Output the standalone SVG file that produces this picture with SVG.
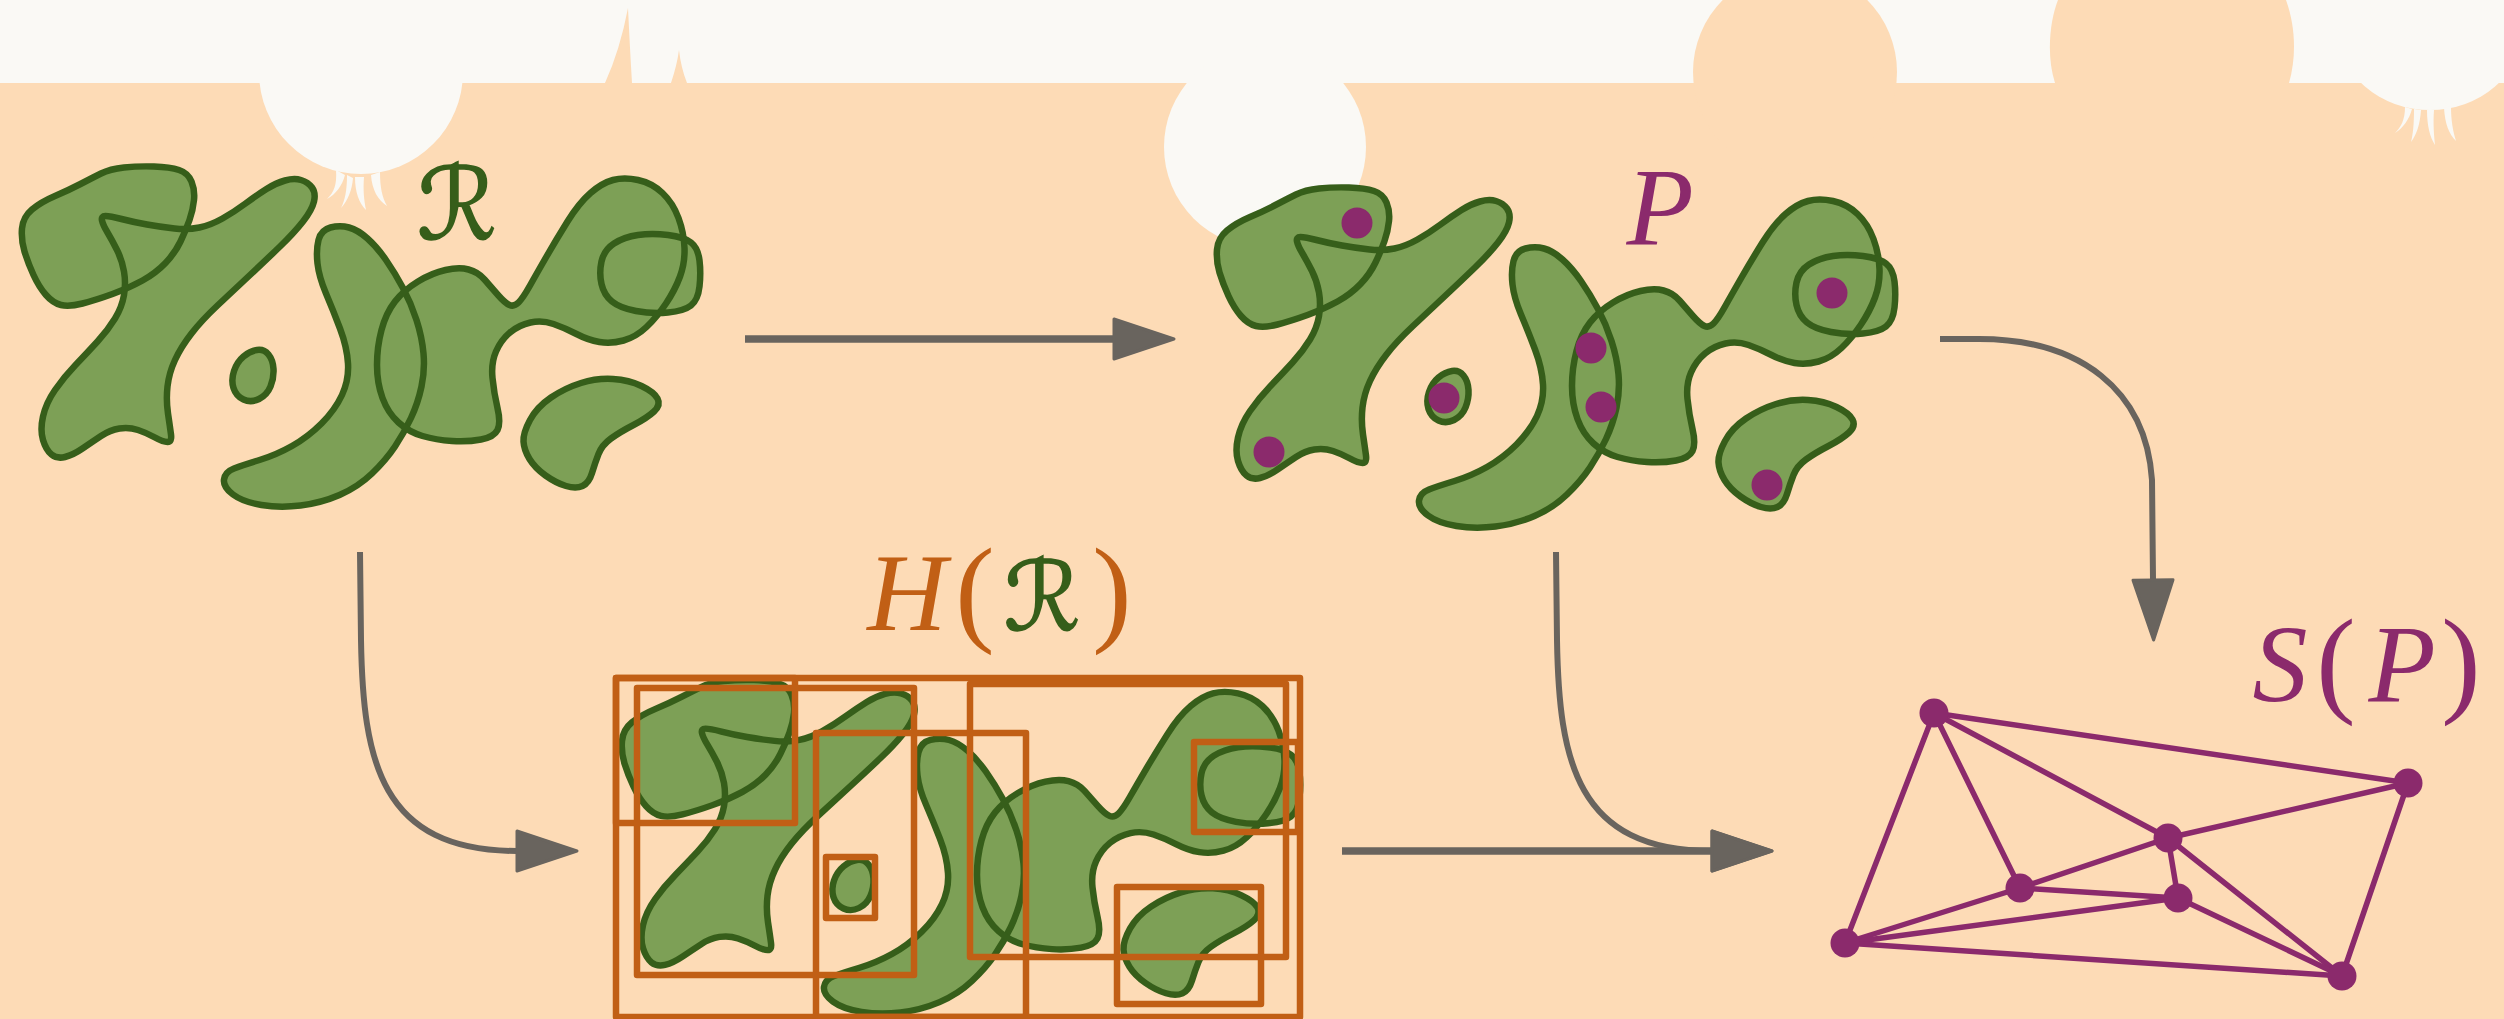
<svg xmlns="http://www.w3.org/2000/svg" width="2504" height="1019" viewBox="0 0 2504 1019">
<style>
  .bg{fill:#fddbb6}
  .band{fill:#faf9f5}
  .fillg{fill:#7da056;stroke:none}
  .lineg{fill:none;stroke:#365e1a;stroke-width:6.5;stroke-linejoin:round}
  .box{fill:none;stroke:#c15f15;stroke-width:6.5;stroke-linejoin:round}
  .dot{fill:#8b2a6c}
  .edge{stroke:#8b2a6c;stroke-width:5.5;stroke-linecap:round}
  .arrow{fill:none;stroke:#69645e}
  .it{font-family:"Liberation Serif","DejaVu Serif",serif;font-style:italic}
  .up{font-family:"Liberation Serif","DejaVu Serif",serif;font-style:normal}
  .cal{font-family:"DejaVu Serif","DejaVu Sans",serif;font-style:normal;stroke:#365e1a;stroke-width:1.6}
</style>
<defs>
  <!-- the region set, drawn once and reused -->
  <g id="regions">
    <path d="M24.5,251.5 Q21,240 22,228.5 Q23,217 32,209.5 Q41,202 55,196 Q69,190 80.5,184 Q92,178 101,173.5 Q110,169 124,167.5 Q138,166 154,166.5 Q170,167 179,170 Q188,173 191.5,181.5 Q195,190 194,200 Q193,210 189.5,220 Q186,230 180.5,241.5 Q175,253 165.5,263 Q156,273 142.5,280.5 Q129,288 112.5,294 Q96,300 82.5,303.5 Q69,307 61,305 Q53,303 46,295 Q39,287 33.5,275 Q28,263 24.5,251.5 Z"/>
    <path d="M102,220.5 Q103,225 107.5,232.5 Q112,240 117,250 Q122,260 124,271.5 Q126,283 124,295 Q122,307 115,318.5 Q108,330 97.5,341.5 Q87,353 75.5,365 Q64,377 55,390 Q46,403 43,416.5 Q40,430 43,440 Q46,450 51.5,454.5 Q57,459 65,457 Q73,455 82.5,448.5 Q92,442 101,436 Q110,430 119.5,428.5 Q129,427 138,430 Q147,433 155,437.5 Q163,442 167.5,442 Q172,442 171,434.5 Q170,427 168,413.5 Q166,400 167.5,386.5 Q169,373 175,360 Q181,347 191.5,333.5 Q202,320 218,305 Q234,290 250,275 Q266,260 280,246.5 Q294,233 303,221.5 Q312,210 314,201.5 Q316,193 312,187.5 Q308,182 301,180 Q294,178 285,180.5 Q276,183 266.5,189 Q257,195 245.5,203.5 Q234,212 222.5,218.5 Q211,225 199.5,227.5 Q188,230 174.5,228.5 Q161,227 147,224.5 Q133,222 121.5,219 Q110,216 105.5,216 Q101,216 102,220.5 Z"/>
    <path d="M257,350 Q264,349 268.5,354.5 Q273,360 273.5,369 Q274,378 270.5,386.5 Q267,395 259,399 Q251,403 243.5,399.5 Q236,396 233.5,388 Q231,380 234,371 Q237,362 243.5,356.5 Q250,351 257,350 Z"/>
    <path d="M318.5,240 Q321,230 330.5,227.5 Q340,225 349,227.5 Q358,230 367.5,238.5 Q377,247 386,260 Q395,273 403,288 Q411,303 416.5,320 Q422,337 423.5,353.5 Q425,370 421.5,386.5 Q418,403 411,418 Q404,433 395,446.5 Q386,460 372,473.5 Q358,487 339.5,495 Q321,503 300.5,505.5 Q280,508 261.5,505 Q243,502 233,494.5 Q223,487 224,479.5 Q225,472 234,468.5 Q243,465 259.5,460 Q276,455 292,446 Q308,437 321.5,423.5 Q335,410 342,395 Q349,380 348,363.5 Q347,347 340,328.5 Q333,310 326,293.5 Q319,277 317.5,263.5 Q316,250 318.5,240 Z"/>
    <path d="M377,365 Q377,347 381.5,330 Q386,313 395,301.5 Q404,290 418,281.5 Q432,273 445.5,270 Q459,267 468.5,269.5 Q478,272 484.5,279.5 Q491,287 498,295 Q505,303 509.5,305 Q514,307 518.5,302.5 Q523,298 530,285.5 Q537,273 546.5,256.5 Q556,240 567.5,221.5 Q579,203 590.5,193 Q602,183 613,180 Q624,177 638,180 Q652,183 662.5,193 Q673,203 678.5,218 Q684,233 684.5,248 Q685,263 680,276.5 Q675,290 666,303.5 Q657,317 646.5,327 Q636,337 623.5,340.5 Q611,344 599.5,342 Q588,340 576.5,334 Q565,328 553.5,324 Q542,320 530.5,322.5 Q519,325 510,332.5 Q501,340 496,351.5 Q491,363 492.5,378 Q494,393 497.5,408 Q501,423 497.5,430 Q494,437 481,439.5 Q468,442 452,441 Q436,440 422.5,436 Q409,432 398.5,422.5 Q388,413 382.5,398 Q377,383 377,365 Z"/>
    <path d="M601.5,284 Q599,273 601.5,261.5 Q604,250 614,243.5 Q624,237 638,235 Q652,233 668,235 Q684,237 691,242.5 Q698,248 699.5,260.5 Q701,273 699.5,286.5 Q698,300 691,305.5 Q684,311 668,312.5 Q652,314 636,311 Q620,308 612,301.5 Q604,295 601.5,284 Z"/>
    <path d="M523.5,441.5 Q523,433 530,420 Q537,407 551,397.5 Q565,388 581,383 Q597,378 613,379 Q629,380 641.5,386 Q654,392 657.5,398.5 Q661,405 654,411.5 Q647,418 633.5,425 Q620,432 611,438.5 Q602,445 598.5,454 Q595,463 592,473 Q589,483 582.5,486 Q576,489 566,486 Q556,483 545.5,475.5 Q535,468 529.5,459 Q524,450 523.5,441.5 Z"/>
  </g>
  <marker id="head" markerUnits="userSpaceOnUse" markerWidth="70" markerHeight="50" viewBox="-4 -25 70 50" refX="0" refY="0" orient="auto" overflow="visible">
    <path d="M0,-20 L60,0 L0,20 Z" fill="#69645e" stroke="#69645e" stroke-width="3" stroke-linejoin="round"/>
  </marker>
</defs>

<!-- backdrop: peach field under an off-white band with bulbs -->
<rect class="bg" x="0" y="0" width="2504" height="1019"/>
<rect class="band" x="0" y="0" width="2504" height="83"/>
<circle class="band" cx="361" cy="72" r="102"/>
<path class="band" d="M336,170 C337,185 334,192 327,199 C336,194 342,186 345,175 Z M347,175 C347,190 345,200 341,208 C348,200 352,190 353,178 Z M355,177 C355,192 359,203 366,210 C364,200 363,190 364,177 Z M371,175 C372,190 378,200 387,206 C382,197 380,187 380,172 Z"/>
<path class="bg" d="M605,83 Q620,50 628,8 Q630,50 632,83 Z M671,83 Q677,65 679,50 Q681,68 687,83 Z"/>
<circle class="band" cx="1265" cy="147" r="101"/>
<circle class="bg" cx="1795" cy="72" r="102"/>
<path class="bg" d="M2055,83 C2046,55 2050,20 2058,0 L2286,0 C2295,25 2297,55 2289,83 Z"/>
<ellipse class="band" cx="2430" cy="30" rx="92" ry="80"/>
<path class="band" d="M2405,107 C2405,120 2401,127 2395,133 C2403,128 2409,120 2412,109 Z M2414,109 C2414,124 2413,134 2411,142 C2417,134 2420,124 2421,110 Z M2427,110 C2427,126 2430,137 2435,145 C2434,135 2433,124 2434,110 Z M2444,108 C2445,124 2449,134 2456,141 C2453,131 2451,121 2451,106 Z"/>

<!-- region set R -->
<g id="node-R">
  <use href="#regions" class="fillg"/>
  <use href="#regions" class="lineg"/>
  <text class="cal" x="457" y="239" font-size="100" fill="#365e1a" text-anchor="middle">ℛ</text>
</g>

<!-- sample points P -->
<g id="node-P">
  <g transform="translate(1195,21)">
    <use href="#regions" class="fillg"/>
    <use href="#regions" class="lineg"/>
  </g>
  <circle class="dot" cx="1357" cy="223" r="15.5"/>
  <circle class="dot" cx="1269" cy="452" r="15.5"/>
  <circle class="dot" cx="1444" cy="398" r="15.5"/>
  <circle class="dot" cx="1591" cy="348" r="15.5"/>
  <circle class="dot" cx="1601" cy="407" r="15.5"/>
  <circle class="dot" cx="1832" cy="293" r="15.5"/>
  <circle class="dot" cx="1767" cy="485" r="15.5"/>
  <text class="it" x="1660" y="244" font-size="110" fill="#8b2a6c" text-anchor="middle">P</text>
</g>

<!-- bounding-box hierarchy H(R) -->
<g id="node-HR">
  <g transform="translate(600,517) scale(1,0.98)">
    <use href="#regions" class="fillg"/>
    <use href="#regions" class="lineg"/>
  </g>
  <rect class="box" x="616" y="678" width="684" height="339"/>
  <rect class="box" x="616" y="678" width="179" height="145"/>
  <rect class="box" x="637" y="688" width="277" height="287"/>
  <rect class="box" x="826" y="857" width="49" height="61"/>
  <rect class="box" x="816" y="733" width="210" height="284"/>
  <rect class="box" x="970" y="684" width="316" height="273"/>
  <rect class="box" x="1194" y="742" width="104" height="90"/>
  <rect class="box" x="1117" y="887" width="144" height="117"/>
  <text y="630" font-size="110" text-anchor="middle">
    <tspan class="it" x="907" fill="#c15f15">H</tspan><tspan class="up" x="975" fill="#c15f15" font-size="118">(</tspan><tspan class="cal" x="1042" fill="#365e1a" font-size="96">ℛ</tspan><tspan class="up" x="1112" fill="#c15f15" font-size="118">)</tspan>
  </text>
</g>

<!-- point graph S(P) -->
<g id="node-SP">
  <line class="edge" x1="1934" y1="713" x2="2408" y2="783"/>
  <line class="edge" x1="1934" y1="713" x2="2168" y2="838"/>
  <line class="edge" x1="1934" y1="713" x2="2020" y2="888"/>
  <line class="edge" x1="1934" y1="713" x2="1845" y2="943"/>
  <line class="edge" x1="2408" y1="783" x2="2168" y2="838"/>
  <line class="edge" x1="2408" y1="783" x2="2342" y2="976"/>
  <line class="edge" x1="2168" y1="838" x2="2020" y2="888"/>
  <line class="edge" x1="2168" y1="838" x2="2178" y2="898"/>
  <line class="edge" x1="2168" y1="838" x2="2342" y2="976"/>
  <line class="edge" x1="2020" y1="888" x2="2178" y2="898"/>
  <line class="edge" x1="2020" y1="888" x2="1845" y2="943"/>
  <line class="edge" x1="2178" y1="898" x2="1845" y2="943"/>
  <line class="edge" x1="2178" y1="898" x2="2342" y2="976"/>
  <line class="edge" x1="1845" y1="943" x2="2342" y2="976"/>
  <circle class="dot" cx="1934" cy="713" r="14.5"/>
  <circle class="dot" cx="2408" cy="783" r="14.5"/>
  <circle class="dot" cx="2168" cy="838" r="14.5"/>
  <circle class="dot" cx="2020" cy="888" r="14.5"/>
  <circle class="dot" cx="2178" cy="898" r="14.5"/>
  <circle class="dot" cx="1845" cy="943" r="14.5"/>
  <circle class="dot" cx="2342" cy="976" r="14.5"/>
  <text y="701" font-size="110" fill="#8b2a6c" text-anchor="middle">
    <tspan class="it" x="2280">S</tspan><tspan class="up" x="2336" font-size="118">(</tspan><tspan class="it" x="2402">P</tspan><tspan class="up" x="2461" font-size="118">)</tspan>
  </text>
</g>

<!-- connectors -->
<g id="connectors" class="arrow">
  <path d="M745,339 H1114" stroke-width="7.5" marker-end="url(#head)"/>
  <path d="M1940,339 L1979,339 C2080,339 2146,390 2152,480 L2153,580" stroke-width="6" marker-end="url(#head)"/>
  <path d="M360,552 L361,640 C363,760 380,851 517,851" stroke-width="6" marker-end="url(#head)"/>
  <path d="M1556,552 L1557,640 C1559,760 1576,851 1712,851" stroke-width="6" marker-end="url(#head)"/>
  <path d="M1342,851 H1712" stroke-width="7.5" marker-end="url(#head)"/>
</g>
</svg>
